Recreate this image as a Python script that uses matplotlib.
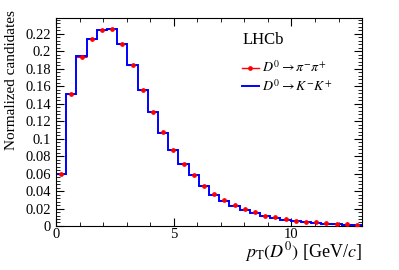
import numpy as np
import matplotlib.pyplot as plt
from matplotlib.ticker import MultipleLocator

plt.rcParams['font.family'] = ['Liberation Serif', 'DejaVu Serif']
plt.rcParams['mathtext.fontset'] = 'stix'

# ── data: normalized pT(D0) distributions, 30 bins over 0-13 GeV/c ────────────
x_lo, x_hi, n_bins = 0.0, 13.0, 30
kk = [0.059, 0.151, 0.195, 0.214, 0.224, 0.226, 0.208, 0.184, 0.156, 0.130,
      0.107, 0.087, 0.071, 0.058, 0.046, 0.036, 0.029, 0.023, 0.018, 0.015,
      0.012, 0.009, 0.007, 0.006, 0.004, 0.003, 0.0023, 0.002, 0.0015, 0.001]
pipi = [0.059, 0.151, 0.194, 0.214, 0.224, 0.226, 0.208, 0.184, 0.156, 0.130,
        0.108, 0.087, 0.071, 0.058, 0.046, 0.037, 0.030, 0.024, 0.019, 0.016,
        0.012, 0.010, 0.008, 0.006, 0.005, 0.004, 0.003, 0.002, 0.002, 0.001]

edges = np.linspace(x_lo, x_hi, n_bins + 1)
centers = 0.5 * (edges[:-1] + edges[1:])
half_w = 0.5 * (edges[1] - edges[0])

fig = plt.figure(figsize=(3.99, 2.7), dpi=100)
ax = fig.add_axes([0.1404, 0.163, 0.767, 0.770])

# red horizontal bin-width bars sit underneath the blue histogram
ax.errorbar(centers, pipi, xerr=half_w, fmt='none', ecolor='red', elinewidth=0.8,
            capsize=0, zorder=1)
ax.stairs(kk, edges, color='blue', lw=1.4, zorder=2, baseline=0)
ax.plot(centers, pipi, 'o', color='red', ms=2.4, zorder=3)

# legend handles
ax.plot([], [], color='red', marker='o', ms=2.4, lw=1.0, label=r'$D^0 \to \pi^{-}\pi^{+}$')
ax.plot([], [], color='blue', lw=1.4, label=r'$D^0 \to K^{-}K^{+}$')
ax.legend(loc='upper left', bbox_to_anchor=(0.608, 0.80), frameon=False,
          fontsize=10, handlelength=1.2, handletextpad=0.2, borderpad=0,
          labelspacing=0.2, borderaxespad=0)
ax.text(0.611, 0.894, 'LHCb', transform=ax.transAxes, fontsize=12, va='center')

ax.set_xlim(x_lo, x_hi)
ax.set_ylim(0, 0.238)
ax.xaxis.set_major_locator(MultipleLocator(5))
ax.xaxis.set_minor_locator(MultipleLocator(1))
ax.yaxis.set_minor_locator(MultipleLocator(0.004))
ax.set_yticks(np.arange(0, 0.23, 0.02))
ax.set_yticklabels(['0', '0.02', '0.04', '0.06', '0.08', '0.1', '0.12',
                    '0.14', '0.16', '0.18', '0.2', '0.22'])
ax.tick_params(which='both', direction='in', top=True, right=True, labelsize=10.5)
ax.tick_params(which='major', length=6)
ax.tick_params(which='minor', length=3)
ax.tick_params(axis='x', pad=1.5)

ax.set_xlabel(r'$p_{\mathrm{T}}(D^0)$ [GeV/$c$]', fontsize=13, loc='right', labelpad=-1)
ax.set_ylabel('Normalized candidates', fontsize=11)
ax.yaxis.set_label_coords(-0.125, 0.70)

fig.savefig('out.png', dpi=100)
